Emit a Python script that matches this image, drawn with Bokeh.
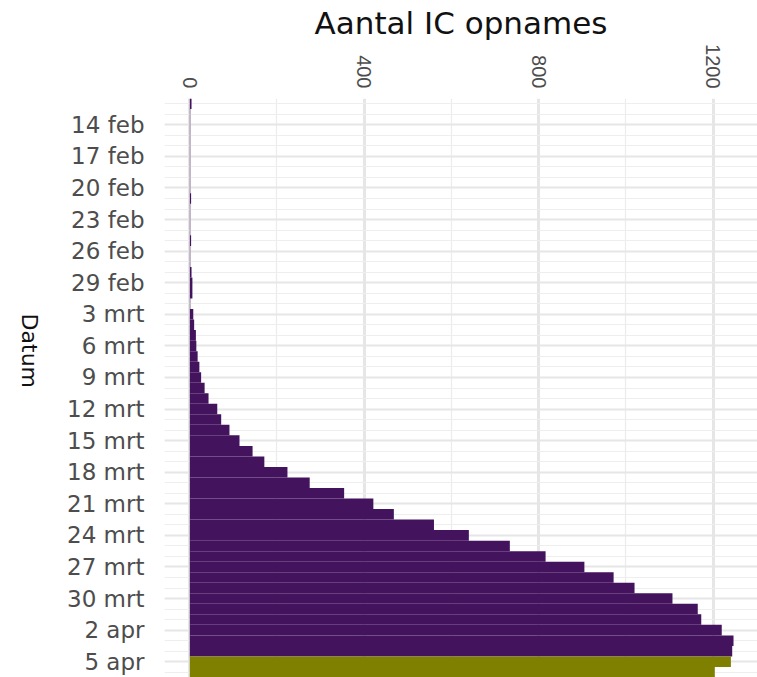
import math
import pandas as pd
from bokeh.plotting import figure
from bokeh.models import ColumnDataSource, Range1d, FixedTicker, LinearAxis
from bokeh.embed import file_html
from bokeh.resources import INLINE

# ---- data -------------------------------------------------------------
dates = pd.date_range("2020-02-12", "2020-04-06", freq="D")

# IC admissions per day (12 feb .. 4 apr), definitive
ic_opnames = [4, 1, 1, 1, 1, 1, 1, 1, 1, 3,
              1, 1, 1, 3, 1, 1, 4, 6, 6, 1,
              8, 10, 14, 15, 18, 22, 26, 34, 43, 63,
              72, 91, 114, 144, 171, 224, 275, 354, 421, 468,
              560, 640, 734, 816, 905, 972, 1020, 1107, 1165, 1173,
              1220, 1247, 1244]
# last two days (5 apr, 6 apr), provisional
ic_opnames_voorlopig = [1241, 1204]

tick_dates = ["2020-02-14", "2020-02-17", "2020-02-20", "2020-02-23",
              "2020-02-26", "2020-02-29", "2020-03-03", "2020-03-06",
              "2020-03-09", "2020-03-12", "2020-03-15", "2020-03-18",
              "2020-03-21", "2020-03-24", "2020-03-27", "2020-03-30",
              "2020-04-02", "2020-04-05"]
tick_labels = ["14 feb", "17 feb", "20 feb", "23 feb", "26 feb", "29 feb",
               "3 mrt", "6 mrt", "9 mrt", "12 mrt", "15 mrt", "18 mrt",
               "21 mrt", "24 mrt", "27 mrt", "30 mrt", "2 apr", "5 apr"]

x_ticks = [0, 400, 800, 1200]
x_minor_ticks = [200, 600, 1000]

# ---- sources ----------------------------------------------------------
n_def = len(ic_opnames)
src_def = ColumnDataSource(dict(pos=list(range(n_def)), val=ic_opnames))
src_prov = ColumnDataSource(dict(pos=list(range(n_def, n_def + len(ic_opnames_voorlopig))),
                                 val=ic_opnames_voorlopig))

tick_pos = [int(dates.get_loc(pd.Timestamp(d))) for d in tick_dates]
all_pos = list(range(len(dates)))

# ---- figure -----------------------------------------------------------
p = figure(width=757, height=677, output_backend="svg", toolbar_location=None,
           x_axis_location="above",
           x_range=Range1d(-58, 1302),
           y_range=Range1d(len(dates) - 0.5, -0.5),
           min_border_left=164, min_border_top=98,
           min_border_right=0, min_border_bottom=0)
p.outline_line_color = None
p.background_fill_color = "white"
p.border_fill_color = "white"

p.hbar(y="pos", right="val", left=0, height=1.0, source=src_def,
       fill_color="#44135e", line_color=None)
p.hbar(y="pos", right="val", left=0, height=1.0, source=src_prov,
       fill_color="#7f7f00", line_color=None)

# x axis (top)
xa = p.xaxis[0]
xa.ticker = FixedTicker(ticks=x_ticks, minor_ticks=x_minor_ticks)
xa.axis_label = "Aantal IC opnames"
xa.axis_label_text_font = "DejaVu Sans"
xa.axis_label_text_font_size = "31px"
xa.axis_label_text_font_style = "normal"
xa.axis_label_text_color = "#111111"
xa.axis_label_standoff = 0
xa.major_label_orientation = -math.pi / 2
xa.major_label_text_font = "Liberation Sans"
xa.major_label_text_font_size = "20px"
xa.major_label_text_color = "#4d4d4d"
xa.major_label_standoff = 10
xa.axis_line_color = None
xa.major_tick_line_color = None
xa.minor_tick_line_color = None
xa.major_tick_out = 0
xa.major_tick_in = 0
xa.minor_tick_out = 0
xa.minor_tick_in = 0

# y axis (left) with the date labels
ya = p.yaxis[0]
ya.ticker = FixedTicker(ticks=tick_pos, minor_ticks=all_pos)
ya.major_label_overrides = {tp: lab for tp, lab in zip(tick_pos, tick_labels)}
ya.major_label_text_font = "DejaVu Sans"
ya.major_label_text_font_size = "23px"
ya.major_label_text_color = "#4d4d4d"
ya.major_label_standoff = 20
ya.axis_line_color = None
ya.major_tick_line_color = None
ya.minor_tick_line_color = None
ya.major_tick_out = 0
ya.major_tick_in = 0
ya.minor_tick_out = 0
ya.minor_tick_in = 0

# y axis title "Datum", reading top to bottom, on a bare outer axis
title_axis = LinearAxis(ticker=FixedTicker(ticks=[]), axis_label="Datum")
title_axis.axis_label_orientation = -math.pi / 2
title_axis.axis_label_text_font = "DejaVu Sans"
title_axis.axis_label_text_font_size = "22px"
title_axis.axis_label_text_font_style = "normal"
title_axis.axis_label_text_color = "#111111"
title_axis.axis_label_standoff = 35
title_axis.axis_line_color = None
title_axis.major_tick_line_color = None
title_axis.minor_tick_line_color = None
title_axis.major_tick_out = 0
title_axis.major_tick_in = 0
title_axis.minor_tick_out = 0
title_axis.minor_tick_in = 0
title_axis.major_label_standoff = 0
p.add_layout(title_axis, "left")

# grids
p.xgrid.grid_line_color = "#e6e6e6"
p.xgrid.grid_line_width = 3
p.xgrid.minor_grid_line_color = "#ececec"
p.xgrid.minor_grid_line_width = 1.2
p.ygrid.grid_line_color = "#e6e6e6"
p.ygrid.grid_line_width = 2
p.ygrid.minor_grid_line_color = "#eeeeee"
p.ygrid.minor_grid_line_width = 1.2

open("out.html", "w").write(file_html(p, INLINE))
